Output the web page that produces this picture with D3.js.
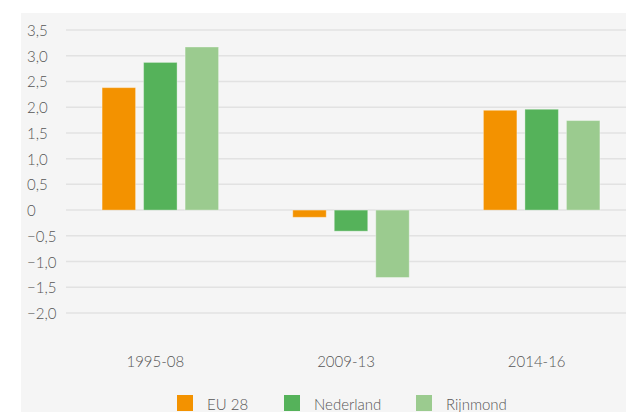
<!DOCTYPE html>
<html lang="nl">
<head>
<meta charset="UTF-8">
<title>Groei</title>
<script src="https://d3js.org/d3.v7.min.js"></script>
<style>
  body { margin: 0; background: #fff; }
  text { font-family: Lato, "Open Sans", sans-serif; font-weight: 300; fill: #555; }
</style>
</head>
<body>
<script>
// categories, series and values
var periods = ["1995-08", "2009-13", "2014-16"];
var seriesNames = ["EU 28", "Nederland", "Rijnmond"];
var eu28 = [2.38, -0.14, 1.94];
var nederland = [2.87, -0.41, 1.96];
var rijnmond = [3.17, -1.31, 1.74];
var yTicks = [-2.0, -1.5, -1.0, -0.5, 0, 0.5, 1.0, 1.5, 2.0, 2.5, 3.0, 3.5];
var colors = ["#f39200", "#55b25a", "#9bcb8f"];

var seriesValues = [eu28, nederland, rijnmond];
var data = periods.map(function(p, i) {
  return {
    period: p,
    values: seriesNames.map(function(s, j) { return { name: s, value: seriesValues[j][i] }; })
  };
});

var width = 626, height = 412;

var svg = d3.select("body").append("svg")
    .attr("width", width)
    .attr("height", height);

// panel background
svg.append("rect")
    .attr("x", 21).attr("y", 13)
    .attr("width", width - 21).attr("height", height - 13)
    .attr("fill", "#f5f5f5");

var x = d3.scaleBand().domain(periods).range([65, 637]);
var xSub = d3.scaleBand().domain(seriesNames).range([-58.25, 58.25]).paddingInner(0.193);
var y = d3.scaleLinear().domain([-2, 3.5]).range([313, 30]);

// grid lines
svg.append("g")
  .selectAll("line")
  .data(yTicks)
  .join("line")
    .attr("x1", 66).attr("x2", 626)
    .attr("y1", function(d) { return y(d); })
    .attr("y2", function(d) { return y(d); })
    .attr("stroke", "#e2e2e2")
    .attr("stroke-width", 1.5);

// y labels, Dutch decimal comma
var fmt = function(d) { return d === 0 ? "0" : d3.format(".1f")(d).replace(".", ","); };
svg.append("g")
  .selectAll("text")
  .data(yTicks)
  .join("text")
    .attr("x", 27)
    .attr("y", function(d) { return y(d); })
    .attr("dy", "0.4em")
    .style("font-size", "15px")
    .text(fmt);

// bars
var groups = svg.append("g")
  .selectAll("g")
  .data(data)
  .join("g")
    .attr("transform", function(d) { return "translate(" + (x(d.period) + x.bandwidth() / 2) + ",0)"; });

groups.selectAll("rect")
  .data(function(d) { return d.values; })
  .join("rect")
    .attr("x", function(d) { return xSub(d.name); })
    .attr("width", xSub.bandwidth())
    .attr("y", function(d) { return y(Math.max(0, d.value)); })
    .attr("height", function(d) { return Math.abs(y(d.value) - y(0)); })
    .attr("fill", function(d, i) { return colors[i]; })
    .attr("stroke", "#ffffff")
    .attr("stroke-opacity", 0.35)
    .attr("stroke-width", 1);

// category labels
svg.append("g")
  .selectAll("text")
  .data(periods)
  .join("text")
    .attr("x", function(d) { return x(d) + x.bandwidth() / 2 - 5; })
    .attr("y", 367)
    .attr("text-anchor", "middle")
    .style("font-size", "15px")
    .text(function(d) { return d; });

// legend
var legendX = [177, 284, 416];
var legend = svg.append("g")
  .selectAll("g")
  .data(seriesNames)
  .join("g")
    .attr("transform", function(d, i) { return "translate(" + legendX[i] + ",395)"; });

legend.append("rect")
    .attr("width", 16).attr("height", 16)
    .attr("fill", function(d, i) { return colors[i]; });

legend.append("text")
    .attr("x", 30)
    .attr("y", 15)
    .style("font-size", "15px")
    .text(function(d) { return d; });
</script>
</body>
</html>
